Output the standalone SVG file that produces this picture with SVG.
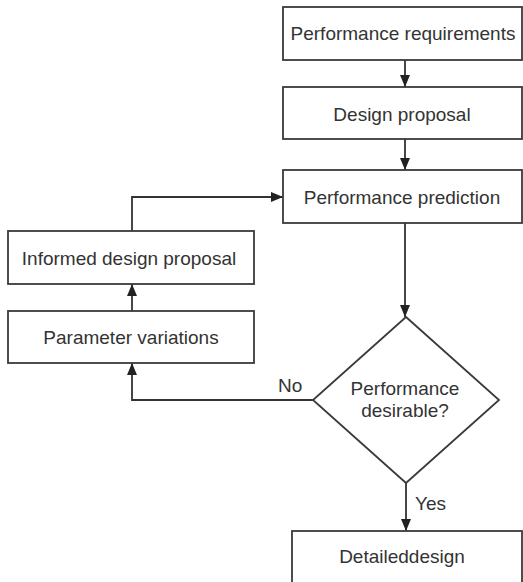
<svg xmlns="http://www.w3.org/2000/svg" width="523" height="582" viewBox="0 0 523 582">
<style>
.box{fill:#fff;stroke:#3a3a3a;stroke-width:1.8}
.t{font-family:"Liberation Sans",Arial,sans-serif;font-size:19px;fill:#333;text-anchor:middle}
.lbl{font-family:"Liberation Sans",Arial,sans-serif;font-size:19px;fill:#333}
.c{fill:none;stroke:#333;stroke-width:1.8}
</style>
<defs>
<marker id="ah" viewBox="0 0 12 12" refX="12" refY="6" markerWidth="12" markerHeight="12" markerUnits="userSpaceOnUse" orient="auto">
<path d="M0,1 L12,6 L0,11 Z" fill="#222"/>
</marker>
</defs>
<rect width="523" height="582" fill="#fff"/>
<g id="connectors">
<line class="c" x1="405" y1="60" x2="405" y2="87" marker-end="url(#ah)"/>
<line class="c" x1="405" y1="139" x2="405" y2="170" marker-end="url(#ah)"/>
<line class="c" x1="405" y1="223" x2="405" y2="317" marker-end="url(#ah)"/>
<polyline class="c" points="313,400 132,400 132,363" marker-end="url(#ah)"/>
<line class="c" x1="132" y1="311" x2="132" y2="284" marker-end="url(#ah)"/>
<polyline class="c" points="132,231 132,197 283,197" marker-end="url(#ah)"/>
<line class="c" x1="406" y1="483" x2="406" y2="531" marker-end="url(#ah)"/>
<text class="lbl" x="278" y="392">No</text>
<text class="lbl" x="415" y="510">Yes</text>
</g>
<g id="perf-req">
<rect class="box" x="283" y="7" width="239" height="53"/>
<text class="t" x="403" y="40">Performance requirements</text>
</g>
<g id="design-proposal">
<rect class="box" x="283" y="87" width="239" height="52"/>
<text class="t" x="402" y="121">Design proposal</text>
</g>
<g id="perf-prediction">
<rect class="box" x="283" y="170" width="239" height="53"/>
<text class="t" x="402" y="204">Performance prediction</text>
</g>
<g id="informed">
<rect class="box" x="8" y="231" width="246" height="53"/>
<text class="t" x="129" y="265">Informed design proposal</text>
</g>
<g id="param">
<rect class="box" x="8" y="311" width="246" height="52"/>
<text class="t" x="131" y="344">Parameter variations</text>
</g>
<g id="decision">
<polygon class="box" points="406,317 499,400 406,483 313,400"/>
<text class="t" x="405" y="395">Performance</text>
<text class="t" x="405" y="417">desirable?</text>
</g>
<g id="detailed">
<rect class="box" x="292" y="531" width="230" height="60"/>
<text class="t" x="402" y="563">Detaileddesign</text>
</g>
</svg>
